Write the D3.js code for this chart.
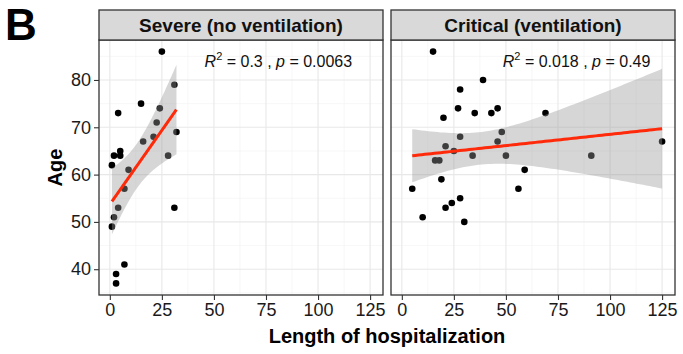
<!DOCTYPE html>
<html>
<head>
<meta charset="utf-8">
<script src="https://cdn.jsdelivr.net/npm/d3@7"></script>
<style>
  html, body { margin: 0; padding: 0; background: #fff; }
  svg { display: block; font-family: "Liberation Sans", Arial, Helvetica, sans-serif; }
</style>
</head>
<body>
<svg id="chart" width="683" height="354"></svg>
<script>
// ---------------- data ----------------
const panelTitles = ["Severe (no ventilation)", "Critical (ventilation)"];
const severeLOS = [25, 31, 4, 15, 24, 22.5, 21, 16, 32, 28, 5, 2, 5, 1, 9, 7, 4, 31, 2, 1, 7, 3, 3];
const severeAge = [86, 79, 73, 75, 74, 71, 68, 67, 69, 64, 65, 64, 64, 62, 61, 57, 53, 53, 51, 49, 41, 39, 37];
const criticalLOS = [15, 39, 28, 27, 35, 43, 46, 20, 48, 28, 46, 21, 25, 34, 50, 16, 18, 19, 59, 5, 56, 28, 24, 21, 10, 30, 69, 91, 125];
const criticalAge = [86, 80, 78, 74, 73, 73, 74, 72, 69, 68, 67, 66, 65, 64, 64, 63, 63, 59, 61, 57, 57, 55, 54, 53, 51, 50, 73, 64, 67];
const r2Labels = ["0.3", "0.018"];
const pLabels = ["0.0063", "0.49"];
const xTicks = [0, 25, 50, 75, 100, 125];
const yTicks = [40, 50, 60, 70, 80];
const xTitle = "Length of hospitalization";
const yTitle = "Age";
const panelLetter = "B";

// ---------------- layout ----------------
const W = 683, H = 354;
const panelX = [[99, 383], [391, 675]];
const plotTop = 40, plotBottom = 295, stripTop = 10;
const annoX = [45.5, 48.5]; // data-unit x where annotation starts

const allX = severeLOS.concat(criticalLOS), allY = severeAge.concat(criticalAge);
const xr = d3.extent(allX), yr = d3.extent(allY);
const xpad = (xr[1] - xr[0]) * 0.05, ypad = (yr[1] - yr[0]) * 0.05;
const xDomain = [xr[0] - xpad, xr[1] + xpad];
const yDomain = [yr[0] - ypad, yr[1] + ypad];

const svg = d3.select("#chart");
const y = d3.scaleLinear().domain(yDomain).range([plotBottom, plotTop]);

function tq(df) { // t quantile 0.975 approximation
  const z = 1.959964;
  return z + (z ** 3 + z) / (4 * df) + (5 * z ** 5 + 16 * z ** 3 + 3 * z) / (96 * df * df)
    + (3 * z ** 7 + 19 * z ** 5 + 17 * z ** 3 - 15 * z) / (384 * df ** 3);
}

function fitLM(xs, ys) {
  const n = xs.length, mx = d3.mean(xs), my = d3.mean(ys);
  let sxx = 0, sxy = 0;
  xs.forEach((v, i) => { sxx += (v - mx) ** 2; sxy += (v - mx) * (ys[i] - my); });
  const b = sxy / sxx, a = my - b * mx;
  let sse = 0;
  xs.forEach((v, i) => { sse += (ys[i] - a - b * v) ** 2; });
  const s = Math.sqrt(sse / (n - 2)), t = tq(n - 2);
  const [lo, hi] = d3.extent(xs);
  const pts = d3.range(80).map(k => {
    const x0 = lo + (hi - lo) * k / 79;
    const f = a + b * x0;
    const se = s * Math.sqrt(1 / n + (x0 - mx) ** 2 / sxx);
    return { x: x0, f, lo: f - t * se, hi: f + t * se };
  });
  return pts;
}

const panels = [
  { xs: severeLOS, ys: severeAge },
  { xs: criticalLOS, ys: criticalAge }
];

panels.forEach((p, i) => {
  const [x0, x1] = panelX[i];
  const x = d3.scaleLinear().domain(xDomain).range([x0, x1]);
  const g = svg.append("g");

  // panel background
  g.append("rect").attr("x", x0).attr("y", plotTop).attr("width", x1 - x0).attr("height", plotBottom - plotTop)
    .attr("fill", "#fff");

  // minor grid
  const xMinor = xTicks.slice(0, -1).map((v, k) => (v + xTicks[k + 1]) / 2);
  const yMinor = [35].concat(yTicks.slice(0, -1).map((v, k) => (v + yTicks[k + 1]) / 2)).concat([85]);
  g.selectAll(".xmin").data(xMinor).join("line")
    .attr("x1", d => x(d)).attr("x2", d => x(d)).attr("y1", plotTop).attr("y2", plotBottom)
    .attr("stroke", "#f2f2f2").attr("stroke-width", 0.6);
  g.selectAll(".ymin").data(yMinor).join("line")
    .attr("x1", x0).attr("x2", x1).attr("y1", d => y(d)).attr("y2", d => y(d))
    .attr("stroke", "#f2f2f2").attr("stroke-width", 0.6);
  // major grid
  g.selectAll(".xmaj").data(xTicks).join("line")
    .attr("x1", d => x(d)).attr("x2", d => x(d)).attr("y1", plotTop).attr("y2", plotBottom)
    .attr("stroke", "#e8e8e8").attr("stroke-width", 1.1);
  g.selectAll(".ymaj").data(yTicks).join("line")
    .attr("x1", x0).attr("x2", x1).attr("y1", d => y(d)).attr("y2", d => y(d))
    .attr("stroke", "#e8e8e8").attr("stroke-width", 1.1);

  // points
  g.selectAll("circle").data(p.xs.map((v, k) => [v, p.ys[k]])).join("circle")
    .attr("cx", d => x(d[0])).attr("cy", d => y(d[1])).attr("r", 3.3).attr("fill", "#000");

  // smooth
  const fit = fitLM(p.xs, p.ys);
  g.append("path").datum(fit)
    .attr("d", d3.area().x(d => x(d.x)).y0(d => y(d.lo)).y1(d => y(d.hi)))
    .attr("fill", "#999999").attr("fill-opacity", 0.4);
  g.append("path").datum(fit)
    .attr("d", d3.line().x(d => x(d.x)).y(d => y(d.f)))
    .attr("fill", "none").attr("stroke", "#ff2a0a").attr("stroke-width", 3);

  // annotation
  const t = g.append("text").attr("x", x(annoX[i])).attr("y", 67)
    .attr("font-size", 16).attr("fill", "#111");
  t.append("tspan").attr("font-style", "italic").text("R");
  t.append("tspan").attr("font-size", 11).attr("dy", -7).text("2");
  t.append("tspan").attr("dy", 7).text(" = " + r2Labels[i] + " , ");
  t.append("tspan").attr("font-style", "italic").text("p");
  t.append("tspan").text(" = " + pLabels[i]);

  // border
  g.append("rect").attr("x", x0).attr("y", plotTop).attr("width", x1 - x0).attr("height", plotBottom - plotTop)
    .attr("fill", "none").attr("stroke", "#333").attr("stroke-width", 1.3);

  // strip
  g.append("rect").attr("x", x0).attr("y", stripTop).attr("width", x1 - x0).attr("height", plotTop - stripTop)
    .attr("fill", "#d9d9d9").attr("stroke", "#333").attr("stroke-width", 1.3);
  g.append("text").attr("x", (x0 + x1) / 2).attr("y", (stripTop + plotTop) / 2 + 6.5)
    .attr("text-anchor", "middle").attr("font-size", 19).attr("font-weight", "bold").attr("fill", "#111")
    .text(panelTitles[i]);

  // x axis
  const ax = svg.append("g").attr("transform", `translate(0,${plotBottom})`)
    .call(d3.axisBottom(x).tickValues(xTicks).tickSize(5).tickPadding(3).tickFormat(d3.format("d")));
  ax.select(".domain").remove();
  ax.selectAll("line").attr("stroke", "#333").attr("stroke-width", 1.1);
  ax.selectAll("text").attr("font-size", 18).attr("fill", "#1a1a1a")
    .style("font-family", "'Liberation Sans', Arial, sans-serif");
});

// y axis
const ay = svg.append("g").attr("transform", `translate(${panelX[0][0]},0)`)
  .call(d3.axisLeft(y).tickValues(yTicks).tickSize(5).tickPadding(3));
ay.select(".domain").remove();
ay.selectAll("line").attr("stroke", "#333").attr("stroke-width", 1.1);
ay.selectAll("text").attr("font-size", 18).attr("fill", "#1a1a1a")
  .style("font-family", "'Liberation Sans', Arial, sans-serif");

// titles
svg.append("text").attr("x", (panelX[0][0] + panelX[1][1]) / 2).attr("y", 343)
  .attr("text-anchor", "middle").attr("font-size", 20).attr("font-weight", "bold").attr("fill", "#000")
  .text(xTitle);
svg.append("text").attr("transform", `translate(62,${(plotTop + plotBottom) / 2}) rotate(-90)`)
  .attr("text-anchor", "middle").attr("font-size", 20).attr("font-weight", "bold").attr("fill", "#000")
  .text(yTitle);
svg.append("text").attr("x", 5).attr("y", 40)
  .attr("font-size", 44).attr("font-weight", "bold").attr("fill", "#000")
  .text(panelLetter);
</script>
</body>
</html>
